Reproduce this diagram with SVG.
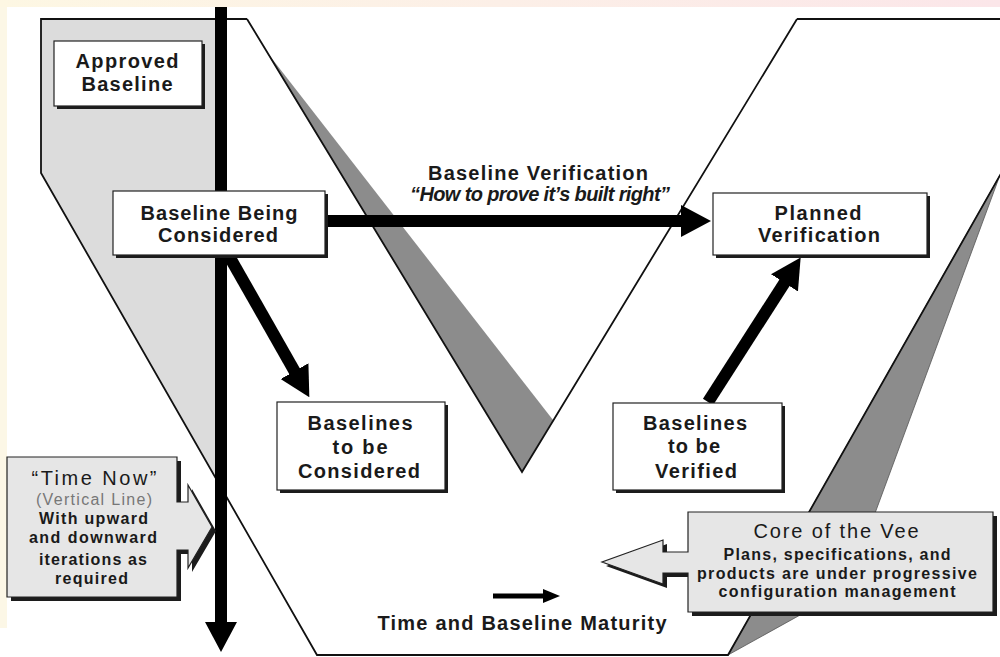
<svg xmlns="http://www.w3.org/2000/svg" width="1000" height="657" viewBox="0 0 1000 657">
<defs>
  <linearGradient id="topg" x1="0" x2="1" y1="0" y2="0">
    <stop offset="0" stop-color="#fdf7e3"/>
    <stop offset="0.5" stop-color="#fcefe7"/>
    <stop offset="1" stop-color="#fbe6e9"/>
  </linearGradient>
  <marker id="ah" markerUnits="userSpaceOnUse" markerWidth="30" markerHeight="32" viewBox="0 0 30 32" refX="1" refY="16" orient="auto-start-reverse">
    <path d="M0,0 L30,16 L0,32 Z" fill="#000"/>
  </marker>
  <style>
    .frame{fill:none;stroke:#111;stroke-width:1.8;stroke-linejoin:miter}
    .conn{fill:none;stroke:#000;stroke-width:12;marker-end:url(#ah)}
    .box{fill:#fff;stroke:#222;stroke-width:1.2}
    .shadow{fill:#1c1c1c}
    .callout{fill:#e6e6e6;stroke:#222;stroke-width:1.2}
    .wedge{fill:#8c8c8c}
    .t{font-family:"Liberation Sans",Arial,sans-serif;font-weight:bold;font-size:20px;fill:#1a1a1a;text-anchor:middle}
    .s{font-size:16px}
    .r{font-weight:normal}
  </style>
</defs>

<rect x="0" y="0" width="1000" height="657" fill="#fff"/>
<rect x="0" y="0" width="7" height="628" fill="#fcf7e6"/>

<g id="vee">
  <polygon points="41,19 221,19 221,487 41,173" fill="#dcdcdc"/>
  <polygon class="wedge" points="266,51 553,420 522,472"/>
  <polygon class="wedge" points="1000,175 847,589 728,655" stroke="#555" stroke-width="0.8"/>
  <path class="frame" d="M247,19 L41,19 L41,173 L317,655 L728,655 L1003,170"/>
  <path class="frame" d="M797,19 L1003,19"/>
  <path class="frame" d="M247,19 L522,472 L797,19"/>
</g>

<g id="connectors">
  <path class="conn" d="M221,-17 L221,623" stroke-width="11" marker-start="url(#ah)"/>
  <path class="conn" d="M325,221 L682,221"/>
  <path class="conn" d="M229,256 L295,372"/>
  <path class="conn" d="M708,402 L785,282"/>
  <path d="M493,596 L545,596" stroke="#000" stroke-width="5"/>
  <polygon points="543,589 560,596 543,603" fill="#000"/>
</g>

<g id="approved-baseline">
  <rect class="shadow" x="57" y="44" width="148" height="65"/>
  <rect class="box" x="54" y="41" width="148" height="65"/>
  <text class="t" x="127" y="68" textLength="103" lengthAdjust="spacing">Approved</text>
  <text class="t" x="127" y="91" textLength="91" lengthAdjust="spacing">Baseline</text>
</g>

<g id="baseline-being-considered">
  <rect class="shadow" x="116" y="194" width="212" height="64"/>
  <rect class="box" x="113" y="191" width="212" height="64"/>
  <text class="t" x="219" y="220" textLength="157" lengthAdjust="spacing">Baseline Being</text>
  <text class="t" x="218" y="242" textLength="120" lengthAdjust="spacing">Considered</text>
</g>

<g id="planned-verification">
  <rect class="shadow" x="716" y="196" width="214" height="62"/>
  <rect class="box" x="713" y="193" width="214" height="62"/>
  <text class="t" x="818" y="220" textLength="87" lengthAdjust="spacing">Planned</text>
  <text class="t" x="819" y="242" textLength="122" lengthAdjust="spacing">Verification</text>
</g>

<g id="baselines-to-be-considered">
  <rect class="shadow" x="280" y="405" width="168" height="88"/>
  <rect class="box" x="277" y="402" width="168" height="88"/>
  <text class="t" x="360" y="430" textLength="105" lengthAdjust="spacing">Baselines</text>
  <text class="t" x="360" y="454" textLength="55" lengthAdjust="spacing">to be</text>
  <text class="t" x="359" y="478" textLength="122" lengthAdjust="spacing">Considered</text>
</g>

<g id="baselines-to-be-verified">
  <rect class="shadow" x="616" y="406" width="169" height="87"/>
  <rect class="box" x="613" y="403" width="169" height="87"/>
  <text class="t" x="695" y="430" textLength="104" lengthAdjust="spacing">Baselines</text>
  <text class="t" x="694" y="453" textLength="52" lengthAdjust="spacing">to be</text>
  <text class="t" x="696" y="478" textLength="82" lengthAdjust="spacing">Verified</text>
</g>

<g id="baseline-verification-label">
  <text class="t" x="538" y="180" textLength="220" lengthAdjust="spacing">Baseline Verification</text>
  <text class="t" x="540" y="201" font-size="18" font-style="italic" textLength="260" lengthAdjust="spacing">“How to prove it’s built right”</text>
</g>

<g id="time-maturity-label">
  <text class="t" x="522" y="630" textLength="289" lengthAdjust="spacing">Time and Baseline Maturity</text>
</g>

<g id="time-now">
  <path class="shadow" transform="translate(4,4)" d="M7,457 L177,457 L177,502 L188,502 L188,485 L212,527 L188,568 L188,550 L177,550 L177,597 L7,597 Z"/>
  <path class="callout" d="M7,457 L177,457 L177,502 L188,502 L188,485 L212,527 L188,568 L188,550 L177,550 L177,597 L7,597 Z"/>
  <text class="t r" x="94" y="485" font-size="21" textLength="125" lengthAdjust="spacing">“Time Now”</text>
  <text class="t r s" x="94" y="505" fill="#777" style="fill:#777" textLength="116" lengthAdjust="spacing">(Vertical Line)</text>
  <text class="t s" x="93.5" y="524" textLength="109" lengthAdjust="spacing">With upward</text>
  <text class="t s" x="93" y="543" textLength="128" lengthAdjust="spacing">and downward</text>
  <text class="t s" x="93" y="565" textLength="108" lengthAdjust="spacing">iterations as</text>
  <text class="t s" x="91.5" y="584" textLength="73" lengthAdjust="spacing">required</text>
</g>

<g id="core-of-the-vee">
  <path class="shadow" transform="translate(4,4)" d="M688,512 L993,512 L993,612 L688,612 L688,573 L663,573 L663,584 L602,562 L663,540 L663,552 L688,552 Z"/>
  <path class="callout" d="M688,512 L993,512 L993,612 L688,612 L688,573 L663,573 L663,584 L602,562 L663,540 L663,552 L688,552 Z"/>
  <text class="t r" x="836" y="538" font-size="21" textLength="165" lengthAdjust="spacing">Core of the Vee</text>
  <text class="t s" x="837" y="560" textLength="227" lengthAdjust="spacing">Plans, specifications, and</text>
  <text class="t s" x="837" y="579" textLength="280" lengthAdjust="spacing">products are under progressive</text>
  <text class="t s" x="837" y="597" textLength="237" lengthAdjust="spacing">configuration management</text>
</g>

<rect x="0" y="0" width="1000" height="7" fill="url(#topg)"/>
</svg>
